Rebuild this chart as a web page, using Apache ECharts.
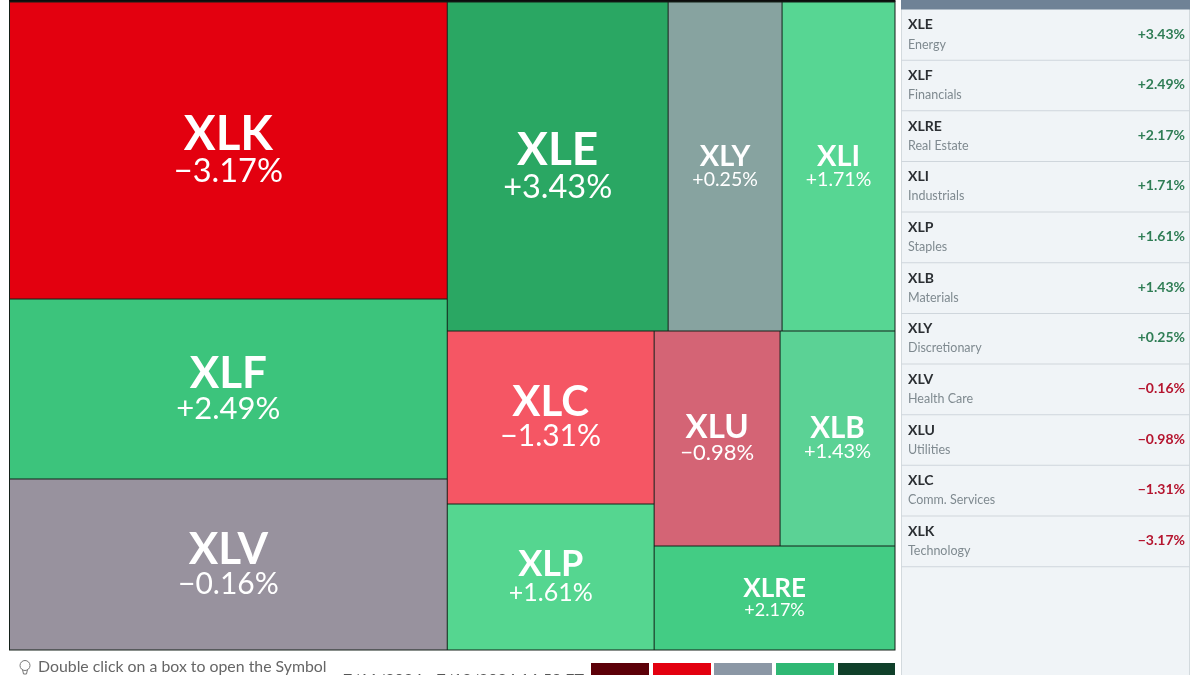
<!DOCTYPE html>
<html>
<head>
<meta charset="utf-8">
<style>html,body{margin:0;padding:0;background:#fff;overflow:hidden}#c{width:1200px;height:675px}</style>
<script src="https://cdn.jsdelivr.net/npm/echarts@6/dist/echarts.min.js"></script>
</head>
<body>
<div id="c"></div>
<script>
// ---- data ----
var tickers  = ['XLK','XLF','XLV','XLE','XLY','XLI','XLC','XLP','XLU','XLB','XLRE'];
var weights  = [130086,78840,74898,72709,37506,37177,35811,30222,27090,24725,25064];
var changes  = [-3.17,2.49,-0.16,3.43,0.25,1.71,-1.31,1.61,-0.98,1.43,2.17];
var listTickers = ['XLE','XLF','XLRE','XLI','XLP','XLB','XLY','XLV','XLU','XLC','XLK'];
var listSectors = ['Energy','Financials','Real Estate','Industrials','Staples','Materials','Discretionary','Health Care','Utilities','Comm. Services','Technology'];
var footerHint = 'Double click on a box to open the Symbol';
var footerDate = '7/11/2024 - 7/12/2024 16:59 ET';

// ---- styles ----
var tileColors = {XLK:'#e3000f',XLF:'#3cc47c',XLV:'#98929e',XLE:'#2aa763',XLY:'#87a3a0',XLI:'#57d693',
                  XLC:'#f55664',XLP:'#55d690',XLU:'#d46475',XLB:'#5bd295',XLRE:'#43cc84'};
var tileFonts  = {XLK:[47.5,32.5],XLF:[44,31],XLV:[44,30],XLE:[46,32.5],XLY:[29,19.5],XLI:[29,19.5],
                  XLC:[42,30],XLP:[36,25],XLU:[33,22],XLB:[29.5,20],XLRE:[26,18]};
var legendColors = ['#5c0008','#e3000f','#8b97a5','#2fb874','#10402a'];
var FONT = 'Lato, "Open Sans", sans-serif';
var NAME_LEADING = 0.9;

function fmt(v){ return (v<0?'\u2212':'+') + Math.abs(v).toFixed(2) + '%'; }
function changeOf(t){ return changes[tickers.indexOf(t)]; }

var treeData = tickers.map(function(t,i){
  var f = tileFonts[t];
  return {
    name:t, value:weights[i], change:changes[i],
    itemStyle:{color:tileColors[t]},
    label:{rich:{
      a:{fontFamily:FONT,fontWeight:700,fontSize:f[0],color:'#fff',lineHeight:f[0]*NAME_LEADING,align:'center'},
      b:{fontFamily:FONT,fontWeight:400,fontSize:f[1],color:'#fff',lineHeight:f[1]*1.0,align:'center'}
    }}
  };
});

var graphics = [];
// sidebar
var PX=901, PW=289, ROW=50.65, TOP=9.5;
graphics.push({type:'rect',shape:{x:PX,y:0,width:PW,height:675},style:{fill:'#f0f4f7'},silent:true});
graphics.push({type:'rect',shape:{x:PX,y:0,width:1,height:675},style:{fill:'#d3dade'},silent:true});
graphics.push({type:'rect',shape:{x:PX+PW-1,y:0,width:1,height:675},style:{fill:'#d3dade'},silent:true});
graphics.push({type:'rect',shape:{x:PX,y:0,width:PW,height:TOP},style:{fill:'#6f8296'},silent:true});
listTickers.forEach(function(t,i){
  var y=TOP+i*ROW, v=changeOf(t);
  graphics.push({type:'rect',shape:{x:PX,y:y+ROW-0.5,width:PW,height:1},style:{fill:'#cfd6dc'},silent:true});
  graphics.push({type:'text',style:{x:PX+7,y:y+15.4,text:t,font:'700 14px '+FONT,fill:'#2b2f33',textVerticalAlign:'middle'},silent:true});
  graphics.push({type:'text',style:{x:PX+7,y:y+35,text:listSectors[i],font:'400 12.5px '+FONT,fill:'#7f8a90',textVerticalAlign:'middle'},silent:true});
  graphics.push({type:'text',style:{x:PX+284,y:y+24.5,text:fmt(v),font:'700 14px '+FONT,fill:v<0?'#b5152f':'#2f7d55',textAlign:'right',textVerticalAlign:'middle'},silent:true});
});
// footer
graphics.push({type:'text',style:{x:38,y:667,text:footerHint,font:'400 15.85px '+FONT,fill:'#666',textVerticalAlign:'middle'},silent:true});
graphics.push({type:'text',style:{x:343,y:680,text:footerDate,font:'400 16px '+FONT,fill:'#555',textVerticalAlign:'middle'},silent:true});
graphics.push({type:'circle',shape:{cx:25,cy:665.5,r:5},style:{fill:'none',stroke:'#777',lineWidth:1},silent:true});
graphics.push({type:'polyline',shape:{points:[[22.5,669.5],[23.5,674],[26.5,674],[27.5,669.5]]},style:{fill:'none',stroke:'#777',lineWidth:1},silent:true});
// colour key
var KEYX=[591,653,714,776,838];
legendColors.forEach(function(c,i){
  graphics.push({type:'rect',shape:{x:KEYX[i],y:663,width:i===4?57:58,height:12},style:{fill:c},silent:true});
});
// top strip
graphics.push({type:'rect',shape:{x:9,y:0,width:886.5,height:2},style:{fill:'#0c0c0c'},silent:true});

var chart = echarts.init(document.getElementById('c'),null,{renderer:'canvas'});
function option(){
  return {
    animation:false,
    graphic:graphics,
    series:[{
      type:'treemap',
      left:9, top:1.5, width:886.5, height:649,
      roam:false, nodeClick:false, breadcrumb:{show:false},
      sort:false,
      squareRatio:0.5*(1+Math.sqrt(5)),
      visibleMin:0,
      itemStyle:{borderWidth:0.5,gapWidth:0,borderColor:'#142019'},
      label:{show:true,position:'inside',align:'center',verticalAlign:'middle',
        formatter:function(p){ return '{a|'+p.name+'}\n{b|'+fmt(p.data.change)+'}'; }},
      levels:[{itemStyle:{borderWidth:1,gapWidth:1,borderColor:'#142019'}},
              {itemStyle:{borderWidth:0}}],
      data:treeData
    }]
  };
}
chart.setOption(option());
// The treemap pins labels to the tile top, so centre them using the heights it laid out.
var nodes = chart.getModel().getSeriesByIndex(0).getData().tree.root.children;
nodes.forEach(function(n){
  var f = tileFonts[n.name];
  var block = f[0]*NAME_LEADING + f[1];
  var item = treeData[tickers.indexOf(n.name)];
  item.label.padding = [Math.max(0,(n.getLayout().height - block)/2),0,0,0];
});
chart.setOption(option());
</script>
</body>
</html>
